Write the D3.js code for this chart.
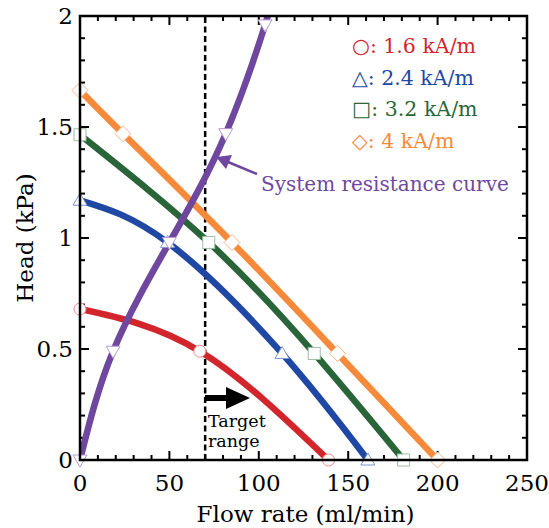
<!DOCTYPE html>
<html>
<head>
<meta charset="utf-8">
<script src="https://cdn.jsdelivr.net/npm/d3@7"></script>
<style>
  body { margin: 0; background: #fff; }
  svg { font-family: "DejaVu Serif", serif; }
</style>
</head>
<body>
<div id="chart"></div>
<script>
// --- Data ---
const xTicks = [0, 50, 100, 150, 200, 250];
const yTicks = [0, 0.5, 1, 1.5, 2];
const yTickLabels = ["0", "0.5", "1", "1.5", "2"];
const targetFlow = 70;

// pump curves: measured points (markers), line drawn as a smooth curve through them
const redX = [0, 67, 139];
const redY = [0.68, 0.49, 0];

const blueX = [0, 49, 113, 161];
const blueY = [1.17, 0.98, 0.48, 0];

const greenX = [0, 72, 131, 181];
const greenY = [1.465, 0.98, 0.48, 0];

const orangeX = [0, 24, 85, 144, 200];
const orangeY = [1.665, 1.47, 0.98, 0.48, 0];

// system resistance curve (last point is where it leaves the frame)
const sysX = [0, 18.5, 50, 81.5, 103.5];
const sysY = [0, 0.49, 0.98, 1.47, 1.96];
const sysEndX = 105.5, sysEndY = 2.03;

const legendLabels = ["○: 1.6 kA/m", "△: 2.4 kA/m", "□: 3.2 kA/m", "◇: 4 kA/m"];

// --- Colours ---
const cRed = "#d3262c", cBlue = "#1f48a4", cGreen = "#296539", cOrange = "#f68a3b", cPurple = "#6f479f";

const W = 549, H = 528;
const m = { left: 80, right: 22, top: 16, bottom: 68 };

const svg = d3.select("#chart").append("svg")
  .attr("width", W).attr("height", H);

const x = d3.scaleLinear().domain([0, 250]).range([m.left, W - m.right]);
const y = d3.scaleLinear().domain([0, 2]).range([H - m.bottom, m.top]);

svg.append("clipPath").attr("id", "clip").append("rect")
  .attr("x", x(0)).attr("y", y(2)).attr("width", x(250) - x(0)).attr("height", y(0) - y(2));

// --- Ticks (inward, all four sides) ---
const xMinor = d3.range(0, 251, 10);
const yMinor = d3.range(0, 2.001, 0.1);
const tk = svg.append("g").attr("stroke", "#000").attr("stroke-width", 2);
xMinor.forEach(v => {
  const len = v % 50 === 0 ? 9 : 5;
  tk.append("line").attr("x1", x(v)).attr("x2", x(v)).attr("y1", y(0)).attr("y2", y(0) - len);
  tk.append("line").attr("x1", x(v)).attr("x2", x(v)).attr("y1", y(2)).attr("y2", y(2) + len);
});
yMinor.forEach(v => {
  const major = Math.abs(v * 2 - Math.round(v * 2)) < 1e-6;
  const len = major ? 9 : 5;
  tk.append("line").attr("x1", x(0)).attr("x2", x(0) + len).attr("y1", y(v)).attr("y2", y(v));
  tk.append("line").attr("x1", x(250)).attr("x2", x(250) - len).attr("y1", y(v)).attr("y2", y(v));
});

// tick labels
svg.append("g").selectAll("text").data(xTicks).join("text")
  .attr("x", d => x(d)).attr("y", y(0) + 31)
  .attr("text-anchor", "middle").style("font-size", "23px").text(d => d);
svg.append("g").selectAll("text").data(yTicks).join("text")
  .attr("x", x(0) - 7).attr("y", d => y(d) + 8)
  .attr("text-anchor", "end").style("font-size", "23px").text((d, i) => yTickLabels[i]);

// axis titles
svg.append("text").attr("x", (x(0) + x(250)) / 2 + 2).attr("y", H - 6)
  .attr("text-anchor", "middle").style("font-size", "23px").text("Flow rate (ml/min)");
svg.append("text").attr("transform", `translate(33, ${(y(0) + y(2)) / 2}) rotate(-90)`)
  .attr("text-anchor", "middle").style("font-size", "23px").text("Head (kPa)");

// --- Target line ---
svg.append("line")
  .attr("x1", x(targetFlow)).attr("x2", x(targetFlow)).attr("y1", y(0)).attr("y2", y(2))
  .attr("stroke", "#000").attr("stroke-width", 2.5).attr("stroke-dasharray", "6,3.5");

// --- Curves ---
const line = d3.line().x(d => x(d[0])).y(d => y(d[1])).curve(d3.curveNatural);
const series = [
  { xs: redX, ys: redY, c: cRed },
  { xs: blueX, ys: blueY, c: cBlue },
  { xs: greenX, ys: greenY, c: cGreen },
  { xs: orangeX, ys: orangeY, c: cOrange },
  { xs: sysX.concat([sysEndX]), ys: sysY.concat([sysEndY]), c: cPurple }
];
const curves = svg.append("g").attr("clip-path", "url(#clip)");
series.forEach(s => {
  curves.append("path")
    .attr("d", line(s.xs.map((v, i) => [v, s.ys[i]])))
    .attr("fill", "none").attr("stroke", s.c).attr("stroke-width", 6.5);
});

// --- Markers ---
const mk = svg.append("g").attr("fill", "#fff").attr("stroke-width", 1);
redX.forEach((v, i) => mk.append("circle")
  .attr("cx", x(v)).attr("cy", y(redY[i])).attr("r", 6).attr("stroke", "#f08a8c"));
blueX.forEach((v, i) => mk.append("path")
  .attr("transform", `translate(${x(v)},${y(blueY[i])})`)
  .attr("d", "M0,-7 L7,5 L-7,5 Z").attr("stroke", "#7f93d0"));
greenX.forEach((v, i) => mk.append("rect")
  .attr("x", x(v) - 6).attr("y", y(greenY[i]) - 6).attr("width", 12).attr("height", 12)
  .attr("stroke", "#9fbfa6"));
orangeX.forEach((v, i) => mk.append("path")
  .attr("transform", `translate(${x(v)},${y(orangeY[i])})`)
  .attr("d", "M0,-8 L8,0 L0,8 L-8,0 Z").attr("stroke", "#f8b58a"));
sysX.forEach((v, i) => mk.append("path")
  .attr("transform", `translate(${x(v)},${y(sysY[i])})`)
  .attr("d", "M-7,-5 L7,-5 L0,7 Z").attr("stroke", "#b29ad3"));

// --- Frame ---
svg.append("rect")
  .attr("x", x(0)).attr("y", y(2)).attr("width", x(250) - x(0)).attr("height", y(0) - y(2))
  .attr("fill", "none").attr("stroke", "#000").attr("stroke-width", 2.5);

// --- Legend ---
const legColors = [cRed, cBlue, cGreen, cOrange];
svg.append("g").selectAll("text").data(legendLabels).join("text")
  .attr("x", 352).attr("y", (d, i) => 53 + i * 31.5)
  .attr("fill", (d, i) => legColors[i]).style("font-size", "20.5px").text(d => d);

// --- System resistance annotation ---
svg.append("text").attr("x", 261).attr("y", 191).attr("fill", cPurple)
  .style("font-size", "20px").text("System resistance curve");
svg.append("line").attr("x1", 257).attr("y1", 174).attr("x2", 228).attr("y2", 162)
  .attr("stroke", cPurple).attr("stroke-width", 2.5);
svg.append("path").attr("d", "M216,157 L232,155 L226,169 Z").attr("fill", cPurple);

// --- Target range annotation ---
svg.append("path")
  .attr("d", "M205,395 L226,395 L226,387 L250,398 L226,409 L226,401 L205,401 Z")
  .attr("fill", "#000");
svg.append("text").attr("x", 208).attr("y", 427).style("font-size", "17.5px").text("Target");
svg.append("text").attr("x", 208).attr("y", 447).style("font-size", "17.5px").text("range");
</script>
</body>
</html>
